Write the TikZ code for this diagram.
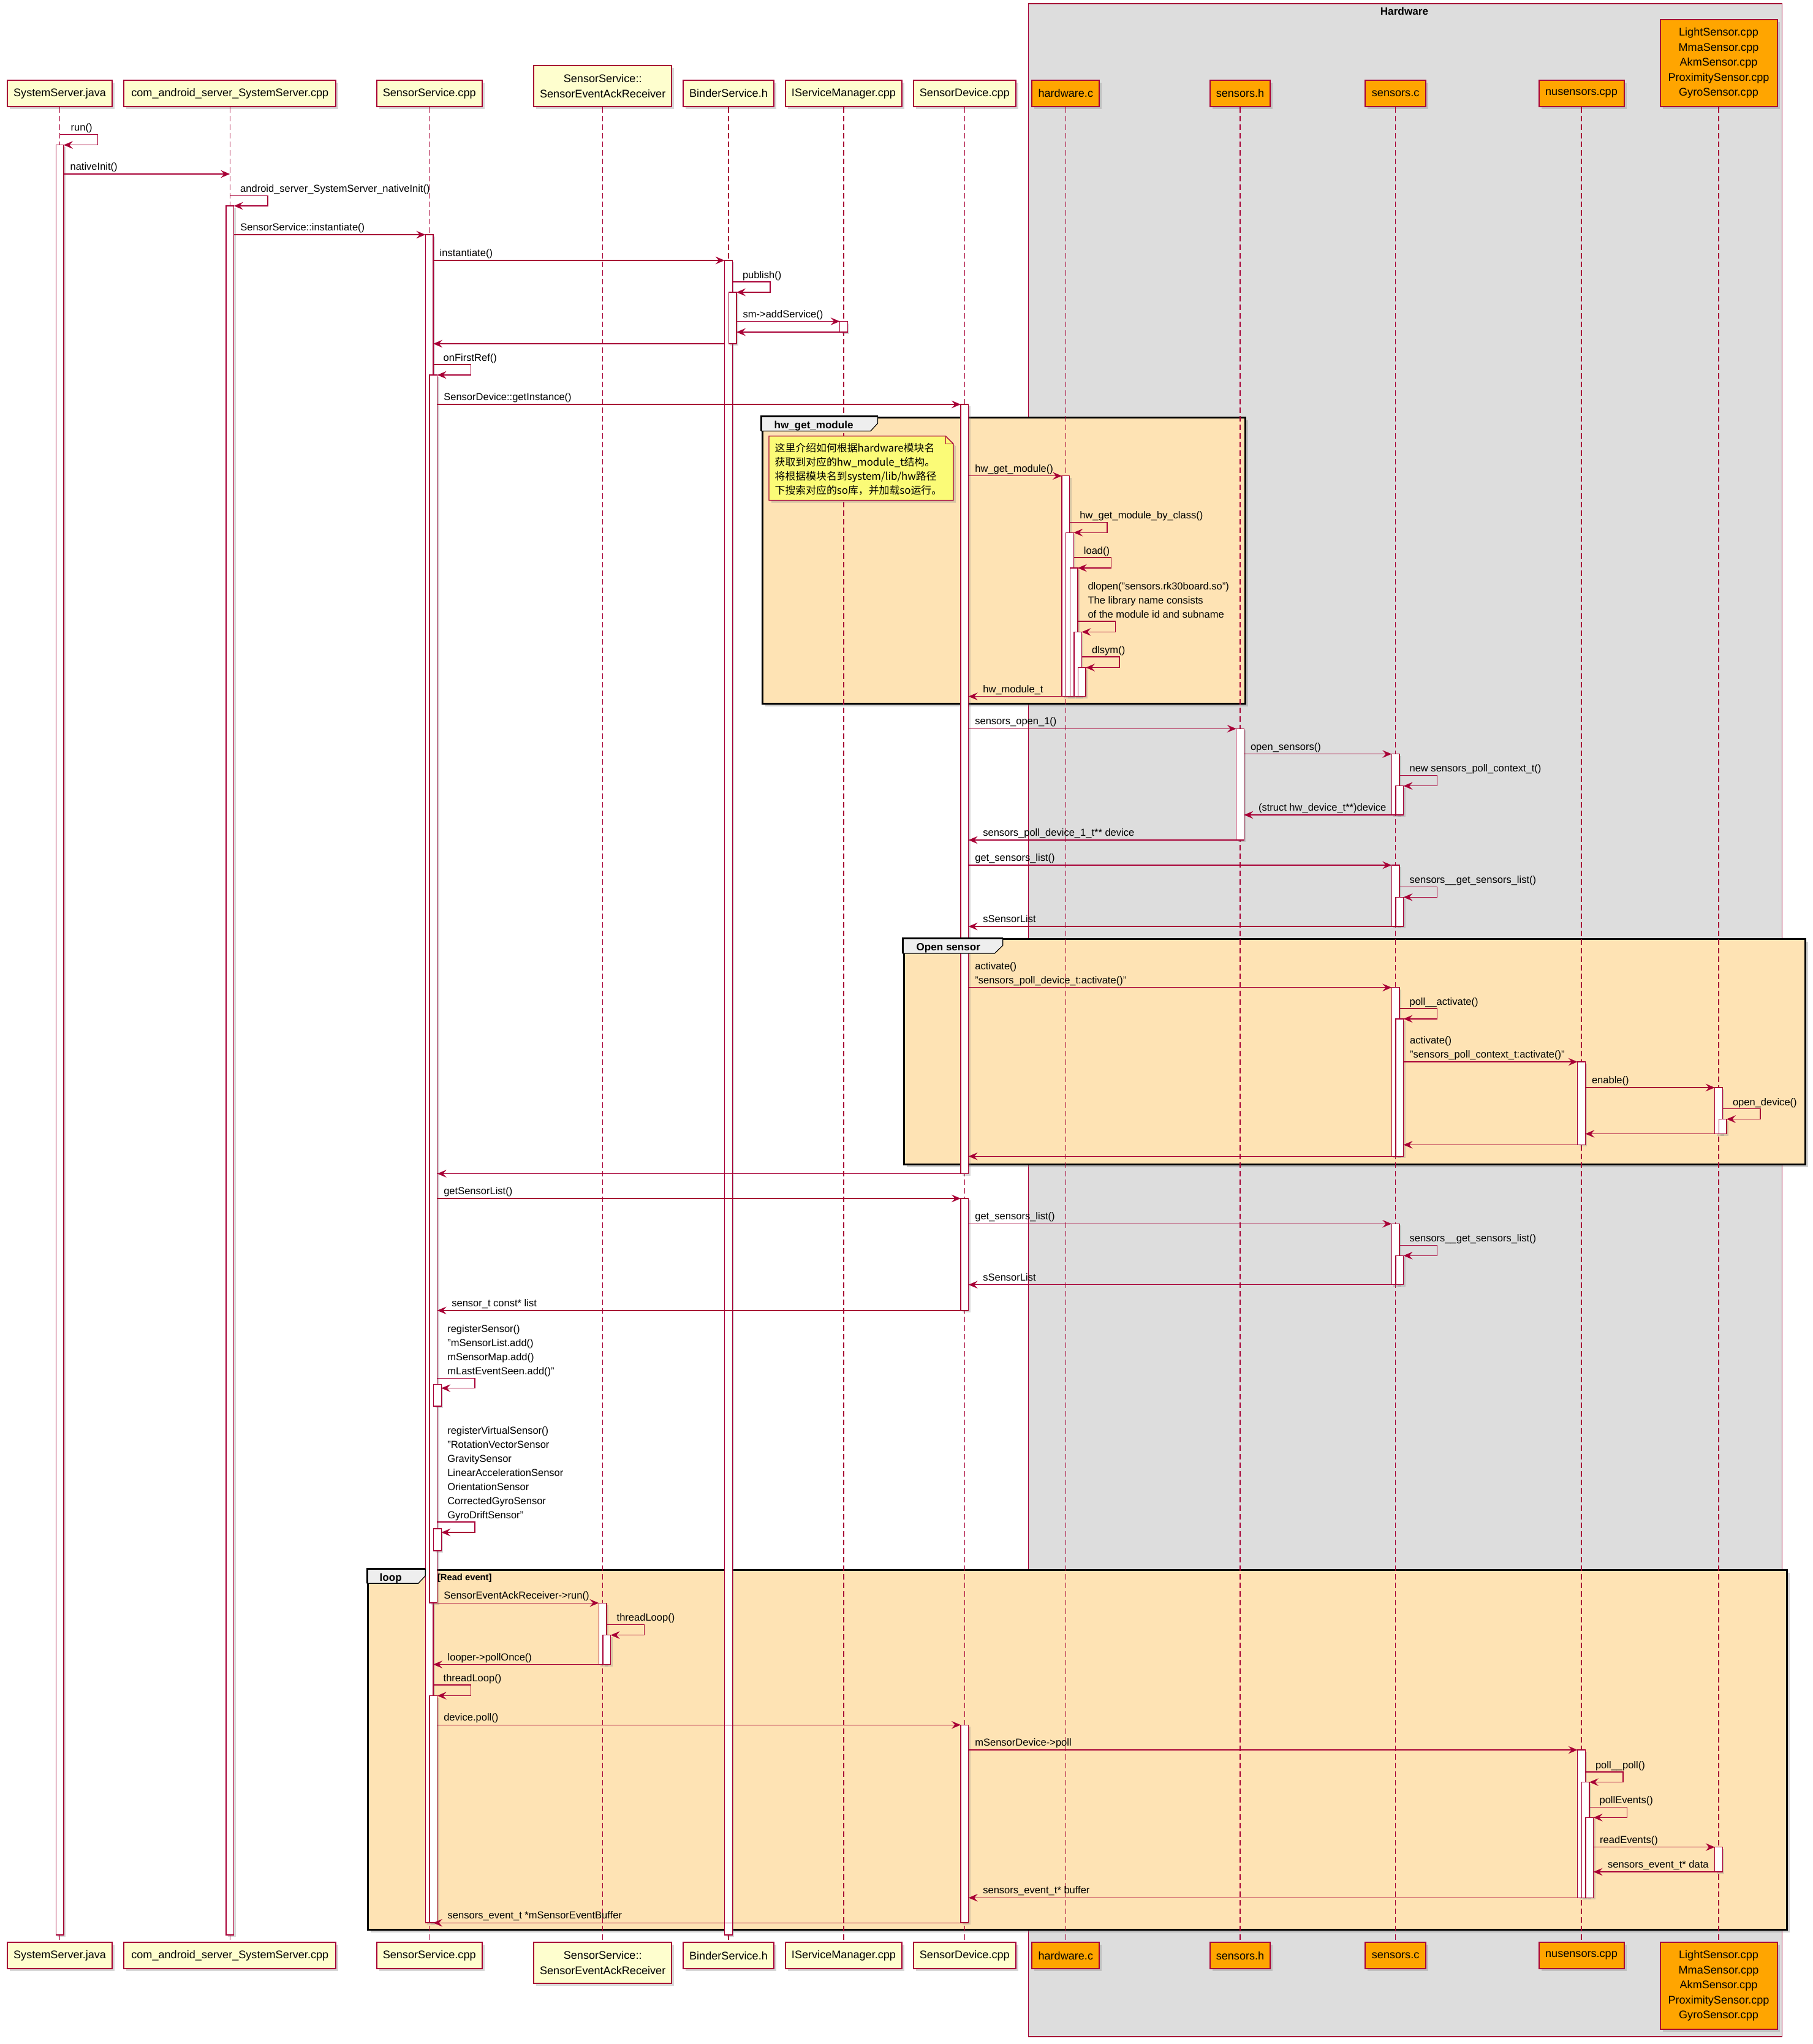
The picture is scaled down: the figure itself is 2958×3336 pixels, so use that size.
\documentclass[tikz,border=0pt]{standalone}
\usepackage{fontspec}
\setmainfont{Liberation Sans}
\newfontfamily\cjkfont{Noto Sans CJK SC}
\usetikzlibrary{arrows.meta,fit,shadows}

\definecolor{umlred}{HTML}{A80036}
\definecolor{partfill}{HTML}{FEFECE}
\definecolor{hwfill}{HTML}{DDDDDD}
\definecolor{hworange}{HTML}{FFA500}
\definecolor{grpfill}{HTML}{FEE3B4}
\definecolor{tabfill}{HTML}{EEEEEE}
\definecolor{notefill}{HTML}{FBFB77}

\newcount\msgno
\newcommand\lblfont{\fontsize{4.7pt}{6.54pt}\selectfont}
\newcommand\partfont{\fontsize{5.15pt}{7pt}\selectfont}
\newcommand\lines[1]{\begin{tabular}[b]{@{}l@{}}#1\end{tabular}}
\newcommand\toplines[1]{\begin{tabular}[t]{@{}l@{}}#1\end{tabular}}

% lifeline x positions
\def\xSS{97.6}
\def\xCA{375.3}
\def\xSV{700.7}
\def\xAK{983.7}
\def\xBS{1189}
\def\xIM{1377}
\def\xSD{1574.3}
\def\xHW{1739.3}
\def\xSH{2024}
\def\xSC{2277.6}
\def\xNU{2581}
\def\xLS{2805}

% top and bottom box of one participant
\newcommand\participant[6]{%
  \node[#5,anchor=south,minimum width=#3,minimum height=#4] (#1) at (#2,175) {#6};
  \node[#5,anchor=north,minimum width=#3,minimum height=#4] (#1-b) at (#2,3169) {#6};}
% activation bar: name, lifeline x, level, top, bottom
\newcommand\lifebar[5]{%
  \node[actbar,fit={({#2-6.3+(#3-1)*6.6},#4) ({#2+6.3+(#3-1)*6.6},#5)}] (#1) {};}
\newcommand\callmsg[4]{%
  \global\advance\msgno by 1
  \draw[msg] (#1.east |- 0,#3) -- (#2.west |- 0,#3);
  \node[lbl,xshift=1mm] (msg\the\msgno) at (#1.east |- 0,{#3-6.5}) {#4};}
\newcommand\retmsg[4]{%
  \global\advance\msgno by 1
  \draw[msg] (#1.west |- 0,#3) -- (#2.east |- 0,#3);
  \node[lbl,xshift=2.3mm] (msg\the\msgno) at (#2.east |- 0,{#3-6.5}) {#4};}
\newcommand\backmsg[3]{%
  \draw[msg] (#1.west |- 0,#3) -- (#2.east |- 0,#3);}
\newcommand\selfmsg[5]{%
  \global\advance\msgno by 1
  \draw[msg] (#1.east |- 0,#3) -- ++(61.5,0) |- (#2.east |- 0,#4);
  \node[lbl,xshift=1.6mm] (msg\the\msgno) at (#1.east |- 0,{#3-5.7}) {#5};}

\begin{document}
\begin{tikzpicture}[x=0.1mm,y=-0.1mm,
    part/.style={draw=umlred,line width=0.2mm,fill=partfill,font=\partfont,align=center,
                 inner sep=0,drop shadow={shadow xshift=0.4mm,shadow yshift=-0.4mm,opacity=0.3}},
    hwpart/.style={part,fill=hworange},
    actbar/.style={draw=umlred,line width=0.14mm,fill=white,inner sep=0,outer sep=0,
                   drop shadow={shadow xshift=0.3mm,shadow yshift=-0.3mm,opacity=0.3}},
    lifeline/.style={umlred,line width=0.14mm,dash pattern=on 0.9mm off 0.5mm},
    msg/.style={umlred,line width=0.14mm,-{Stealth[length=1.5mm,width=1.25mm,inset=0.55mm]}},
    lbl/.style={font=\lblfont,inner sep=0,anchor=base west},
    grp/.style={draw=black,line width=0.3mm,fill=grpfill,inner sep=0,anchor=north west,
                drop shadow={shadow xshift=0.45mm,shadow yshift=-0.45mm,opacity=0.35}},
    grpborder/.style={black,line width=0.3mm},
    grptab/.style={black,line width=0.12mm,fill=tabfill},
    grptitle/.style={font=\bfseries\fontsize{4.85pt}{6pt}\selectfont,inner sep=0,anchor=base west},
    condtitle/.style={font=\bfseries\fontsize{4.2pt}{5pt}\selectfont,inner sep=0,anchor=base west},
    notebox/.style={draw=umlred,line width=0.14mm,fill=notefill,
                    drop shadow={shadow xshift=0.4mm,shadow yshift=-0.4mm,opacity=0.3}}]
  \useasboundingbox (0,0) rectangle (2958,3336);
  \fill[white] (0,0) rectangle (2958,3336);

  % Hardware box
  \node[draw=umlred,line width=0.14mm,fill=hwfill,anchor=north west,inner sep=0,
        minimum width=123.05mm,minimum height=331.79mm] (hwgrp) at (1677.5,5.4) {};
  \node[font=\bfseries\fontsize{4.9pt}{6pt}\selectfont,inner sep=0,anchor=base] (hwtitle) at (2292,24.5) {Hardware};

  % participants
  \participant{pSS}{\xSS}{17.1mm}{4.3mm}{part}{SystemServer.java}
  \participant{pCA}{\xCA}{34.6mm}{4.3mm}{part}{com\_android\_server\_SystemServer.cpp}
  \participant{pSV}{\xSV}{17.2mm}{4.3mm}{part}{SensorService.cpp}
  \participant{pAK}{\xAK}{22.5mm}{6.7mm}{part}{SensorService::\\SensorEventAckReceiver}
  \participant{pBS}{\xBS}{14.75mm}{4.3mm}{part}{BinderService.h}
  \participant{pIM}{\xIM}{19mm}{4.3mm}{part}{IServiceManager.cpp}
  \participant{pSD}{\xSD}{16.7mm}{4.3mm}{part}{SensorDevice.cpp}
  \participant{pHW}{\xHW}{11mm}{4.3mm}{hwpart}{hardware.c}
  \participant{pSH}{\xSH}{9.85mm}{4.3mm}{hwpart}{sensors.h}
  \participant{pSC}{\xSC}{9.85mm}{4.3mm}{hwpart}{sensors.c}
  \participant{pNU}{\xNU}{13.9mm}{4.3mm}{hwpart}{nusensors.cpp}
  \participant{pLS}{\xLS}{19.1mm}{14.2mm}{hwpart}{LightSensor.cpp\\MmaSensor.cpp\\AkmSensor.cpp\\ProximitySensor.cpp\\GyroSensor.cpp}

  % groups
  \node[grp,minimum width=78.82mm,minimum height=46.69mm] (fHw) at (1242.5,679.9) {};
  \node[grp,minimum width=147.17mm,minimum height=36.75mm] (fOpen) at (1473.5,1531) {};
  \node[grp,minimum width=231.6mm,minimum height=58.71mm] (fLoop) at (599.3,2560.7) {};

  % lifelines
  \foreach \p in {pSS,pCA,pSV,pAK,pBS,pIM,pSD,pHW,pSH,pSC,pNU,pLS}
    \draw[lifeline] (\p.south) -- (\p-b.north);

  % activation bars
  \lifebar{ss1}{\xSS}{1}{236.6}{3158}
  \lifebar{ca1}{\xCA}{1}{336}{3158}
  \lifebar{sv1}{\xSV}{1}{383}{3138}
  \lifebar{bs1}{\xBS}{1}{425}{3158}
  \lifebar{bs2}{\xBS}{2}{477}{561}
  \lifebar{im1}{\xIM}{1}{524.5}{542}
  \lifebar{sv2}{\xSV}{2}{612}{2616}
  \lifebar{sd1}{\xSD}{1}{660}{1915.5}
  \lifebar{hw1}{\xHW}{1}{776.7}{1136.6}
  \lifebar{hw2}{\xHW}{2}{869.2}{1136.6}
  \lifebar{hw3}{\xHW}{3}{927}{1136.6}
  \lifebar{hw4}{\xHW}{4}{1031.4}{1136.6}
  \lifebar{hw5}{\xHW}{5}{1089.5}{1136.6}
  \lifebar{sh1}{\xSH}{1}{1189.3}{1371}
  \lifebar{sc1}{\xSC}{1}{1230.6}{1330}
  \lifebar{sc2}{\xSC}{2}{1282.7}{1330}
  \lifebar{sc3}{\xSC}{1}{1412}{1512}
  \lifebar{sc4}{\xSC}{2}{1464.3}{1512}
  \lifebar{sc5}{\xSC}{1}{1611.7}{1887.2}
  \lifebar{sc6}{\xSC}{2}{1662.8}{1887.2}
  \lifebar{nu1}{\xNU}{1}{1733}{1868.4}
  \lifebar{ls1}{\xLS}{1}{1775}{1850.5}
  \lifebar{ls2}{\xLS}{2}{1826.5}{1850.5}
  \lifebar{sd2}{\xSD}{1}{1956}{2138.8}
  \lifebar{sc7}{\xSC}{1}{1997.3}{2096.7}
  \lifebar{sc8}{\xSC}{2}{2049.3}{2096.7}
  \lifebar{sv3}{\xSV}{3}{2259.5}{2295}
  \lifebar{sv4}{\xSV}{3}{2495}{2531}
  \lifebar{ak1}{\xAK}{1}{2616.2}{2716.5}
  \lifebar{ak2}{\xAK}{2}{2668.6}{2716.5}
  \lifebar{sv5}{\xSV}{2}{2767.5}{3138}
  \lifebar{sd3}{\xSD}{1}{2815.2}{3138}
  \lifebar{nu2}{\xNU}{1}{2856}{3097.3}
  \lifebar{nu3}{\xNU}{2}{2908.6}{3097.3}
  \lifebar{nu4}{\xNU}{3}{2966.4}{3097.3}
  \lifebar{ls3}{\xLS}{1}{3014.6}{3055}

  % group tabs
  \draw[grptab] (fHw.north west) -- ++(190,0) -- ++(0,11) -- ++(-11.6,12.5) -- ++(-178.4,0) -- cycle;
  \draw[grpborder] (fHw.north west) ++(0,23.5) |- ++(190,-23.5);
  \node[grptitle] (tHw) at (1263,699.7) {hw\_get\_module};
  \draw[grptab] (fOpen.north west) -- ++(163.2,0) -- ++(0,12) -- ++(-13.4,13) -- ++(-149.8,0) -- cycle;
  \draw[grpborder] (fOpen.north west) ++(0,25) |- ++(163.2,-25);
  \node[grptitle] (tOpen) at (1495,1551.5) {Open sensor};
  \draw[grptab] (fLoop.north west) -- ++(95,0) -- ++(0,11) -- ++(-11.6,12.5) -- ++(-83.4,0) -- cycle;
  \draw[grpborder] (fLoop.north west) ++(0,23.5) |- ++(95,-23.5);
  \node[grptitle] (tLoop) at (619,2580) {loop};
  \node[condtitle] (tCond) at (713.3,2579) {[Read event]};

  % messages
  \draw[msg] (pSS |- 0,219.6) -- ++(61.8,0) |- (ss1.east |- 0,236.6);
  \node[lbl] (mRun) at (115,213.9) {run()};
  \draw[msg] (ss1.east |- 0,284) -- (pCA |- 0,284);
  \node[lbl,xshift=1mm] (mNative) at (ss1.east |- 0,277.5) {nativeInit()};
  \draw[msg] (pCA |- 0,319.6) -- ++(61.8,0) |- (ca1.east |- 0,336);
  \node[lbl] (mNativeJni) at (391.5,313.9) {android\_server\_SystemServer\_nativeInit()};
  \callmsg{ca1}{sv1}{383}{SensorService::instantiate()}
  \callmsg{sv1}{bs1}{425}{instantiate()}
  \selfmsg{bs1}{bs2}{460}{477}{publish()}
  \callmsg{bs2}{im1}{524.5}{sm->addService()}
  \backmsg{im1}{bs2}{542}
  \backmsg{bs1}{sv1}{561}
  \selfmsg{sv1}{sv2}{595}{612}{onFirstRef()}
  \callmsg{sv2}{sd1}{660}{SensorDevice::getInstance()}
  \callmsg{sd1}{hw1}{776.7}{hw\_get\_module()}
  \selfmsg{hw1}{hw2}{852.3}{869.2}{hw\_get\_module\_by\_class()}
  \selfmsg{hw2}{hw3}{910}{927}{load()}
  \selfmsg{hw3}{hw4}{1014}{1031.4}{\lines{dlopen("sensors.rk30board.so")\\The library name consists\\of the module id and subname}}
  \selfmsg{hw4}{hw5}{1071.9}{1089.5}{dlsym()}
  \retmsg{hw1}{sd1}{1136.6}{hw\_module\_t}
  \callmsg{sd1}{sh1}{1189.3}{sensors\_open\_1()}
  \callmsg{sh1}{sc1}{1230.6}{open\_sensors()}
  \selfmsg{sc1}{sc2}{1265.3}{1282.7}{new sensors\_poll\_context\_t()}
  \retmsg{sc1}{sh1}{1330}{(struct hw\_device\_t**)device}
  \retmsg{sh1}{sd1}{1371}{sensors\_poll\_device\_1\_t** device}
  \callmsg{sd1}{sc3}{1412}{get\_sensors\_list()}
  \selfmsg{sc3}{sc4}{1447.4}{1464.3}{sensors\_\_get\_sensors\_list()}
  \retmsg{sc3}{sd1}{1512}{sSensorList}
  \callmsg{sd1}{sc5}{1611.7}{\lines{activate()\\"sensors\_poll\_device\_t:activate()"}}
  \selfmsg{sc5}{sc6}{1646}{1662.8}{poll\_\_activate()}
  \callmsg{sc6}{nu1}{1733}{\lines{activate()\\"sensors\_poll\_context\_t:activate()"}}
  \callmsg{nu1}{ls1}{1775}{enable()}
  \selfmsg{ls1}{ls2}{1809.7}{1826.5}{open\_device()}
  \backmsg{ls1}{nu1}{1850.5}
  \backmsg{nu1}{sc6}{1868.4}
  \backmsg{sc5}{sd1}{1887.2}
  \backmsg{sd1}{sv2}{1915.5}
  \callmsg{sv2}{sd2}{1956}{getSensorList()}
  \callmsg{sd2}{sc7}{1997.3}{get\_sensors\_list()}
  \selfmsg{sc7}{sc8}{2032.3}{2049.3}{sensors\_\_get\_sensors\_list()}
  \retmsg{sc7}{sd2}{2096.7}{sSensorList}
  \retmsg{sd2}{sv2}{2138.8}{sensor\_t const* list}
  \selfmsg{sv2}{sv3}{2249.6}{2265.6}{\lines{registerSensor()\\"mSensorList.add()\\mSensorMap.add()\\mLastEventSeen.add()"}}
  \selfmsg{sv2}{sv4}{2484}{2501}{\lines{registerVirtualSensor()\\"RotationVectorSensor\\GravitySensor\\LinearAccelerationSensor\\OrientationSensor\\CorrectedGyroSensor\\GyroDriftSensor"}}
  \callmsg{sv2}{ak1}{2616.2}{SensorEventAckReceiver->run()}
  \selfmsg{ak1}{ak2}{2651.4}{2668.6}{threadLoop()}
  \retmsg{ak1}{sv1}{2716.5}{looper->pollOnce()}
  \selfmsg{sv1}{sv5}{2750}{2767.5}{threadLoop()}
  \callmsg{sv5}{sd3}{2815.2}{device.poll()}
  \callmsg{sd3}{nu2}{2856}{mSensorDevice->poll}
  \selfmsg{nu2}{nu3}{2891.8}{2908.6}{poll\_\_poll()}
  \selfmsg{nu3}{nu4}{2949.5}{2966.4}{pollEvents()}
  \callmsg{nu4}{ls3}{3014.6}{readEvents()}
  \retmsg{ls3}{nu4}{3055}{sensors\_event\_t* data}
  \retmsg{nu2}{sd3}{3097.3}{sensors\_event\_t* buffer}
  \retmsg{sd3}{sv1}{3138.2}{sensors\_event\_t *mSensorEventBuffer}

  % note in hw_get_module
  \filldraw[notebox] (1255,711.7) -- (1543.4,711.7) -- (1556,724.3) -- (1556,816.5) -- (1255,816.5) -- cycle;
  \draw[umlred,line width=0.14mm] (1543.4,711.7) -- (1543.4,724.3) -- (1556,724.3);
  \node[inner sep=0,anchor=base west,font={\cjkfont\fontsize{4.8pt}{6.6pt}\selectfont}] (hwnote) at (1264,737)
    {\toplines{这里介绍如何根据hardware模块名\\获取到对应的hw\_module\_t结构。\\将根据模块名到system/lib/hw路径\\下搜索对应的so库，并加载so运行。}};
\end{tikzpicture}
\end{document}
